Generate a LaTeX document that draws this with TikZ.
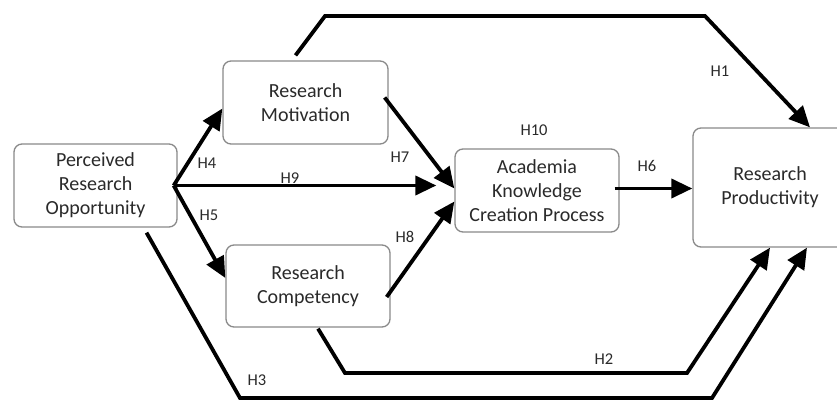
\documentclass[tikz,border=0pt]{standalone}
\usepackage{fontspec}
\setmainfont{Carlito}
\usetikzlibrary{arrows.meta}
\definecolor{txt}{HTML}{2A2A2A}
\definecolor{bord}{HTML}{8A8A8A}
\begin{document}
\begin{tikzpicture}[x=1pt,y=-1pt,
  box/.style={draw=bord,line width=1.3pt,rounded corners=8pt,fill=white,align=center,
    text=txt,font=\fontsize{20}{24}\selectfont,inner sep=0pt},
  conn/.style={line width=3.8pt,black,-{Triangle[length=21pt,width=19pt]}},
  lab/.style={text=txt,font=\fontsize{16.5}{18}\selectfont,inner sep=0pt}]
\useasboundingbox[fill=white] (0,0) rectangle (837,401);
\node[box,minimum width=163pt,minimum height=83pt] (PRO) at (95.5,185.5) {Perceived\\Research\\Opportunity};
\node[box,minimum width=165pt,minimum height=83pt] (RM) at (305.5,102.5) {Research\\Motivation};
\node[box,minimum width=164pt,minimum height=82pt] (RC) at (308,286) {Research\\Competency};
\node[box,minimum width=164pt,minimum height=83pt] (AK) at (537,190.5) {Academia\\Knowledge\\Creation Process};
\node[box,minimum width=154pt,minimum height=119pt] (RP) at (770,187.5) {Research\\Productivity};
% connectors
\draw[conn] ([xshift=-10pt,yshift=5pt]RM.north) -- (325,16) -- (705,16) -- ([xshift=40pt]RP.north);
\draw[conn] ([xshift=10pt,yshift=-1pt]RC.south) -- (345,373) -- (687,373) -- ([xshift=0pt]RP.south);
\draw[conn] ([xshift=51pt,yshift=-5pt]PRO.south) -- (240,398) -- (712,398) -- ([xshift=37pt]RP.south);
\draw[conn] ([xshift=-4pt]PRO.east) -- ([yshift=-6pt]RM.west);
\draw[conn,shorten >=18pt] ([xshift=-4pt]PRO.east) -- (AK.west |- PRO.east);
\draw[conn] ([xshift=-4pt]PRO.east) -- ([yshift=8pt]RC.west);
\draw[conn] ([xshift=-4pt,yshift=5pt]RM.east) -- ([yshift=2pt]AK.west);
\draw[conn] ([xshift=-4pt,yshift=-11pt]RC.east) -- ([yshift=-11pt]AK.west);
\draw[conn] ([xshift=-5pt,yshift=2pt]AK.east) -- (RP.west |- {(0,188.5)});
% labels
\node[lab] (l1) at (720,71) {H1};
\node[lab] (l2) at (604,359) {H2};
\node[lab] (l3) at (257,380) {H3};
\node[lab] (l4) at (207,163) {H4};
\node[lab] (l5) at (209,215) {H5};
\node[lab] (l6) at (647,166) {H6};
\node[lab] (l7) at (400,157) {H7};
\node[lab] (l8) at (405,237) {H8};
\node[lab] (l9) at (290,178) {H9};
\node[lab] (l10) at (534,130) {H10};
\end{tikzpicture}
\end{document}
